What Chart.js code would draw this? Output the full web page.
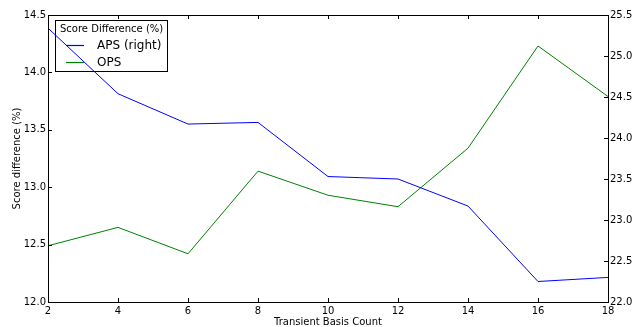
<!DOCTYPE html>
<html>
<head>
<meta charset="utf-8">
<script src="https://cdn.jsdelivr.net/npm/chart.js@4.4.0/dist/chart.umd.min.js"></script>
<style>
  html, body { margin: 0; padding: 0; background: #fff; }
  #wrap { width: 633px; height: 327px; }
</style>
</head>
<body>
<div id="wrap"><canvas id="chart" width="633" height="327"></canvas></div>
<script>
// data
const basisCounts = [2, 4, 6, 8, 10, 12, 14, 16, 18];
const apsValues = [25.34, 24.54, 24.17, 24.19, 23.53, 23.50, 23.17, 22.25, 22.30]; // right axis
const opsValues = [12.49, 12.65, 12.42, 13.14, 12.93, 12.83, 13.34, 14.23, 13.79]; // left axis
const legendTitle = "Score Difference (%)";
const seriesNames = ["APS (right)", "OPS"];

const FONT = "DejaVu Sans";

// frame + inward ticks like matplotlib classic
const frameTicks = {
    id: "frameTicks",
    afterDraw(chart) {
        const { ctx, chartArea: a, scales } = chart;
        const len = 4;
        ctx.save();
        ctx.strokeStyle = "#000";
        ctx.lineWidth = 1;
        ctx.beginPath();
        scales.x.ticks.forEach((t) => {
            const px = Math.round(scales.x.getPixelForValue(t.value)) + 0.5;
            ctx.moveTo(px, a.bottom); ctx.lineTo(px, a.bottom - len);
            ctx.moveTo(px, a.top); ctx.lineTo(px, a.top + len);
        });
        scales.y.ticks.forEach((t) => {
            const py = Math.round(scales.y.getPixelForValue(t.value)) + 0.5;
            ctx.moveTo(a.left, py); ctx.lineTo(a.left + len, py);
        });
        scales.y1.ticks.forEach((t) => {
            const py = Math.round(scales.y1.getPixelForValue(t.value)) + 0.5;
            ctx.moveTo(a.right, py); ctx.lineTo(a.right - len, py);
        });
        ctx.stroke();
        ctx.strokeRect(Math.round(a.left) + 0.5, Math.round(a.top) + 0.5,
            Math.round(a.right - a.left), Math.round(a.bottom - a.top));
        ctx.restore();
    },
};

// boxed legend in the top-left, under the lines
const boxLegend = {
    id: "boxLegend",
    beforeDatasetsDraw(chart) {
        const { ctx } = chart;
        const ds = chart.data.datasets;
        const x0 = 55.5, y0 = 20.5, w = 112, h = 51;
        ctx.save();
        ctx.fillStyle = "#fff";
        ctx.fillRect(x0, y0, w, h);
        ctx.strokeStyle = "#000";
        ctx.lineWidth = 1;
        ctx.strokeRect(x0, y0, w, h);
        ctx.fillStyle = "#000";
        ctx.textBaseline = "middle";
        ctx.font = "10px '" + FONT + "'";
        ctx.fillText(legendTitle, 60, 29.5);
        ctx.font = "12px '" + FONT + "'";
        ds.forEach((d, i) => {
            const cy = 45.5 + i * 17;
            ctx.strokeStyle = d.borderColor;
            ctx.lineWidth = 1.2;
            ctx.beginPath();
            ctx.moveTo(66, cy); ctx.lineTo(84, cy);
            ctx.stroke();
            ctx.fillText(d.label, 97, cy + 0.5);
        });
        ctx.restore();
    },
};

new Chart(document.getElementById("chart"), {
    type: "line",
    data: {
        datasets: [
            {
                label: seriesNames[0],
                data: basisCounts.map((x, i) => ({ x: x, y: apsValues[i] })),
                borderColor: "#0000ff",
                borderWidth: 1,
                pointRadius: 0,
                yAxisID: "y1",
            },
            {
                label: seriesNames[1],
                data: basisCounts.map((x, i) => ({ x: x, y: opsValues[i] })),
                borderColor: "#008000",
                borderWidth: 1,
                pointRadius: 0,
                yAxisID: "y",
            },
        ],
    },
    options: {
        responsive: false,
        animation: false,
        layout: { padding: { top: 15, left: 0, right: 0, bottom: 0 } },
        plugins: { legend: { display: false }, tooltip: { enabled: false } },
        scales: {
            x: {
                type: "linear",
                min: 2,
                max: 18,
                grid: { display: false, drawTicks: false },
                border: { display: false },
                ticks: { stepSize: 2, padding: 3, color: "#000", font: { family: FONT, size: 10 }, maxRotation: 0 },
                title: { display: true, text: "Transient Basis Count", color: "#000", font: { family: FONT, size: 10 }, padding: { top: 0, bottom: -1 } },
                afterFit(s) { s.height = 25; },
            },
            y: {
                position: "left",
                min: 12,
                max: 14.5,
                grid: { display: false, drawTicks: false },
                border: { display: false },
                ticks: { stepSize: 0.5, padding: 2, color: "#000", font: { family: FONT, size: 10 }, callback: (v) => v.toFixed(1) },
                title: { display: true, text: "Score difference (%)", color: "#000", font: { family: FONT, size: 10 }, padding: { top: 11, bottom: 0 } },
                afterFit(s) { s.width = 48; },
            },
            y1: {
                position: "right",
                min: 22,
                max: 25.5,
                grid: { display: false, drawTicks: false },
                border: { display: false },
                ticks: { stepSize: 0.5, padding: 2, color: "#000", font: { family: FONT, size: 10 }, callback: (v) => v.toFixed(1) },
                afterFit(s) { s.width = 25; },
            },
        },
    },
    plugins: [boxLegend, frameTicks],
});
</script>
</body>
</html>
